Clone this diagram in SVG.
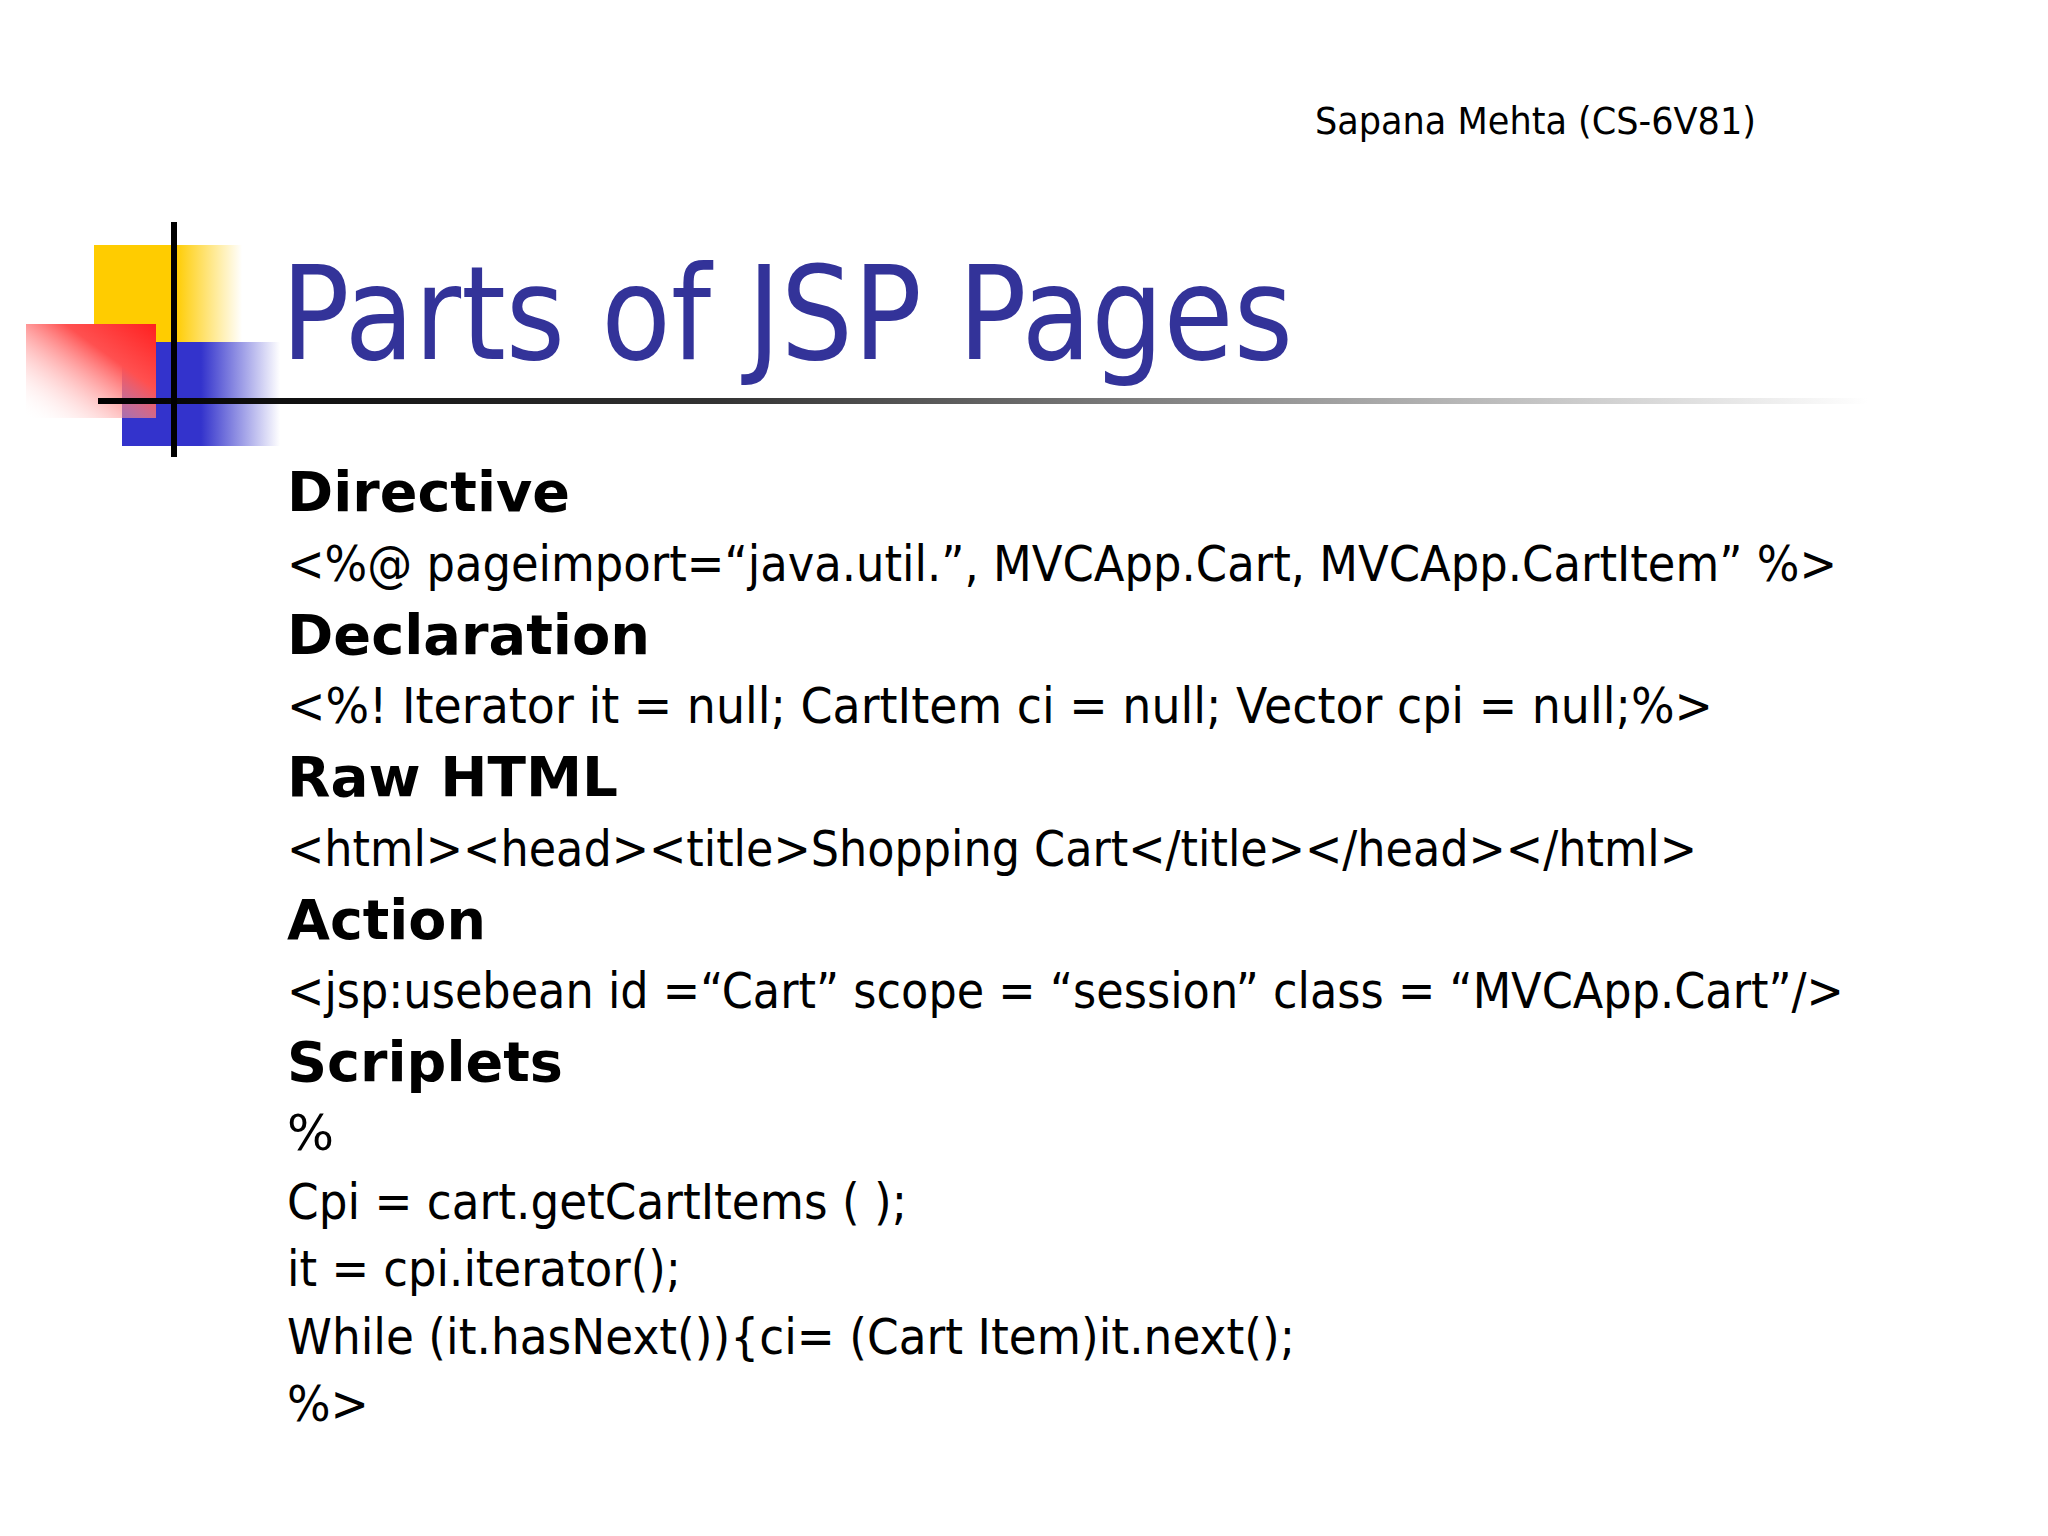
<svg xmlns="http://www.w3.org/2000/svg" width="2048" height="1536" viewBox="0 0 2048 1536">
<defs>
<linearGradient id="yel" x1="0" x2="1" y1="0" y2="0"><stop offset="0" stop-color="#ffcc00"/><stop offset="0.55" stop-color="#ffcc00"/><stop offset="1" stop-color="#ffffff"/></linearGradient>
<linearGradient id="red" x1="1" x2="0" y1="0" y2="1"><stop offset="0" stop-color="#ff2020"/><stop offset="0.35" stop-color="#ff5050"/><stop offset="1" stop-color="#ffffff" stop-opacity="0"/></linearGradient>
<linearGradient id="blu" x1="0" x2="1" y1="0" y2="0"><stop offset="0" stop-color="#3333cc"/><stop offset="0.5" stop-color="#3333cc"/><stop offset="1" stop-color="#ffffff"/></linearGradient>
<linearGradient id="hl" x1="0" x2="1" y1="0" y2="0"><stop offset="0" stop-color="#000"/><stop offset="0.35" stop-color="#333"/><stop offset="1" stop-color="#fff"/></linearGradient>
</defs>
<style>
.h{font-family:"DejaVu Sans",Verdana,sans-serif;font-weight:bold;font-size:55px;fill:#000}
.c{font-family:"DejaVu Sans",Tahoma,sans-serif;font-size:49px;fill:#000}
</style>
<rect width="2048" height="1536" fill="#fff"/>
<g id="decor">
<rect x="94" y="245" width="148" height="97" fill="url(#yel)"/>
<rect x="122" y="342" width="158" height="104" fill="url(#blu)"/>
<rect x="26" y="324" width="130" height="94" fill="url(#red)"/>
<rect x="98" y="398" width="1770" height="6" fill="url(#hl)"/>
<rect x="171" y="222" width="6" height="235" fill="#000"/>
</g>
<text x="1315" y="134" font-family="DejaVu Sans,Tahoma,sans-serif" font-size="37" textLength="441" lengthAdjust="spacingAndGlyphs">Sapana Mehta (CS-6V81)</text>
<text x="281" y="359" font-family="DejaVu Sans,Tahoma,sans-serif" font-size="130" fill="#333399" textLength="1012" lengthAdjust="spacingAndGlyphs">Parts of JSP Pages</text>
<g id="body">
<text class="h" x="287" y="511" textLength="283" lengthAdjust="spacingAndGlyphs">Directive</text>
<text class="c" x="287" y="581" textLength="1550" lengthAdjust="spacingAndGlyphs">&lt;%@ pageimport=“java.util.”, MVCApp.Cart, MVCApp.CartItem” %&gt;</text>
<text class="h" x="287" y="654" textLength="363" lengthAdjust="spacingAndGlyphs">Declaration</text>
<text class="c" x="287" y="723" textLength="1426" lengthAdjust="spacingAndGlyphs">&lt;%! Iterator it = null; CartItem ci = null; Vector cpi = null;%&gt;</text>
<text class="h" x="287" y="796" textLength="331" lengthAdjust="spacingAndGlyphs">Raw HTML</text>
<text class="c" x="287" y="866" textLength="1410" lengthAdjust="spacingAndGlyphs">&lt;html&gt;&lt;head&gt;&lt;title&gt;Shopping Cart&lt;/title&gt;&lt;/head&gt;&lt;/html&gt;</text>
<text class="h" x="287" y="939" textLength="199" lengthAdjust="spacingAndGlyphs">Action</text>
<text class="c" x="287" y="1008" textLength="1557" lengthAdjust="spacingAndGlyphs">&lt;jsp:usebean id =“Cart” scope = “session” class = “MVCApp.Cart”/&gt;</text>
<text class="h" x="287" y="1081" textLength="276" lengthAdjust="spacingAndGlyphs">Scriplets</text>
<text class="c" x="287" y="1150" textLength="47" lengthAdjust="spacingAndGlyphs">%</text>
<text class="c" x="287" y="1219" textLength="620" lengthAdjust="spacingAndGlyphs">Cpi = cart.getCartItems ( );</text>
<text class="c" x="287" y="1286" textLength="394" lengthAdjust="spacingAndGlyphs">it = cpi.iterator();</text>
<text class="c" x="287" y="1354" textLength="1008" lengthAdjust="spacingAndGlyphs">While (it.hasNext()){ci= (Cart Item)it.next();</text>
<text class="c" x="287" y="1421" textLength="82" lengthAdjust="spacingAndGlyphs">%&gt;</text>
</g>
</svg>
